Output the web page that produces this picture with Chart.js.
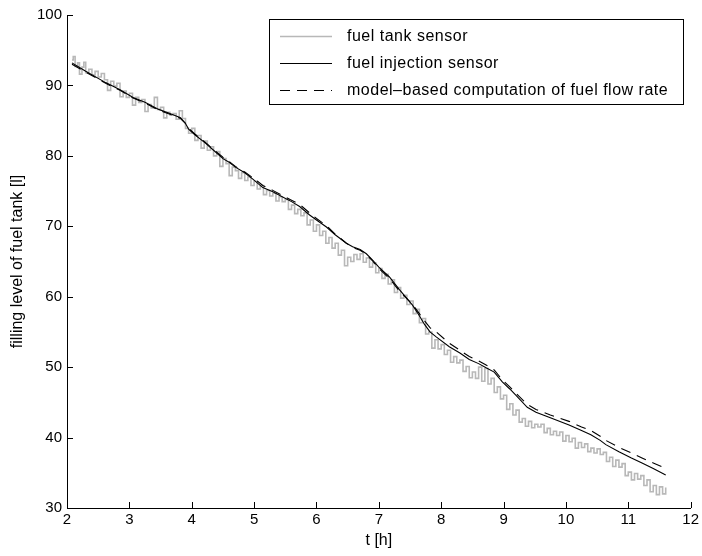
<!DOCTYPE html>
<html>
<head>
<meta charset="utf-8">
<script src="https://cdn.jsdelivr.net/npm/chart.js@4.4.1/dist/chart.umd.min.js"></script>
<style>
  html, body { margin: 0; padding: 0; background: #fff; }
  canvas { display: block; }
</style>
</head>
<body>
<canvas id="fuelChart" width="702" height="556"></canvas>
<script>
// tank level gauge (quantised, noisy)
const tankTime = [
  2.08, 2.10, 2.13, 2.17, 2.20, 2.24, 2.27, 2.30, 2.35, 2.40, 2.45, 2.50, 2.55, 2.60, 2.65, 2.70, 2.75, 2.80, 2.85, 2.90,
  2.95, 3.00, 3.05, 3.10, 3.15, 3.20, 3.25, 3.30, 3.35, 3.40, 3.45, 3.50, 3.55, 3.60, 3.65, 3.70, 3.75, 3.80, 3.85, 3.90,
  3.95, 4.00, 4.05, 4.10, 4.15, 4.20, 4.25, 4.30, 4.35, 4.40, 4.45, 4.50, 4.55, 4.60, 4.65, 4.70, 4.75, 4.80, 4.85, 4.90,
  4.95, 5.00, 5.05, 5.10, 5.15, 5.20, 5.25, 5.30, 5.35, 5.40, 5.45, 5.50, 5.55, 5.60, 5.65, 5.70, 5.75, 5.80, 5.85, 5.90,
  5.95, 6.00, 6.05, 6.10, 6.15, 6.20, 6.25, 6.30, 6.35, 6.40, 6.45, 6.50, 6.55, 6.60, 6.65, 6.70, 6.75, 6.80, 6.85, 6.90,
  6.95, 7.00, 7.05, 7.10, 7.15, 7.20, 7.25, 7.30, 7.35, 7.40, 7.45, 7.50, 7.55, 7.60, 7.65, 7.70, 7.75, 7.80, 7.85, 7.90,
  7.95, 8.00, 8.05, 8.10, 8.15, 8.20, 8.25, 8.30, 8.35, 8.40, 8.45, 8.50, 8.55, 8.60, 8.65, 8.70, 8.75, 8.80, 8.85, 8.90,
  8.95, 9.00, 9.05, 9.10, 9.15, 9.20, 9.25, 9.30, 9.35, 9.40, 9.45, 9.50, 9.55, 9.60, 9.65, 9.70, 9.75, 9.80, 9.85, 9.90,
  9.95, 10.00, 10.05, 10.10, 10.15, 10.20, 10.25, 10.30, 10.35, 10.40, 10.45, 10.50, 10.55, 10.60, 10.65, 10.70, 10.75, 10.80, 10.85, 10.90,
  10.95, 11.00, 11.05, 11.10, 11.15, 11.20, 11.25, 11.30, 11.35, 11.40, 11.45, 11.50, 11.55, 11.60
];
const tankLevel = [
  93.6, 94.1, 92.7, 93.2, 91.6, 92.6, 93.3, 91.8, 92.3, 91.5, 92.0, 91.2, 91.7, 90.8, 89.3, 90.6, 89.9, 90.3, 88.4, 89.2,
  88.3, 88.9, 87.2, 88.3, 87.6, 88.0, 86.3, 87.3, 86.8, 88.3, 86.6, 86.9, 85.4, 86.2, 85.8, 86.0, 85.2, 86.4, 85.3, 83.9,
  83.2, 83.9, 82.2, 82.9, 81.1, 82.1, 80.8, 81.3, 80.0, 80.6, 78.5, 79.6, 78.9, 77.2, 78.4, 77.9, 76.8, 77.6, 76.5, 77.0,
  75.8, 76.4, 75.3, 75.8, 74.5, 75.1, 74.3, 74.7, 73.6, 74.2, 73.5, 73.8, 72.4, 73.0, 71.8, 72.4, 71.5, 71.9, 70.2, 70.9,
  69.3, 70.2, 68.7, 69.3, 67.6, 68.4, 66.9, 67.6, 65.9, 66.6, 64.4, 65.6, 65.0, 66.0, 65.3, 66.1, 64.9, 65.5, 64.2, 64.8,
  63.4, 64.0, 62.6, 63.2, 61.8, 62.4, 60.6, 61.3, 59.8, 60.2, 58.9, 59.4, 57.6, 58.2, 56.3, 56.9, 54.7, 55.0, 52.7, 53.9,
  52.6, 53.2, 51.8, 52.4, 50.7, 51.5, 50.6, 51.0, 49.4, 50.1, 48.5, 49.3, 48.4, 50.0, 48.0, 49.8, 47.6, 48.4, 46.4, 47.2,
  45.5, 46.0, 44.0, 44.8, 43.2, 43.9, 42.2, 42.7, 41.6, 42.3, 41.4, 41.9, 41.5, 41.9, 40.7, 41.3, 40.4, 40.9, 40.3, 40.8,
  39.5, 40.3, 39.4, 39.9, 38.5, 39.3, 38.6, 39.1, 38.0, 38.5, 37.8, 38.4, 37.6, 37.9, 36.6, 37.2, 35.9, 36.8, 35.8, 36.3,
  34.6, 35.1, 34.0, 34.9, 34.1, 34.6, 33.2, 34.0, 32.3, 33.2, 31.9, 33.0, 32.0, 32.9
];

// level from the injection flow sensor
const injTime = [
  2.08, 2.30, 2.62, 2.85, 3.06, 3.25, 3.47, 3.65, 3.82, 3.90, 3.95, 4.05, 4.22, 4.35, 4.50, 4.60, 4.70, 4.85, 4.98, 5.14,
  5.30, 5.45, 5.60, 5.73, 5.89, 6.00, 6.16, 6.30, 6.48, 6.58, 6.70, 6.80, 6.90, 7.00, 7.17, 7.33, 7.54, 7.65, 7.73, 7.82,
  7.92, 8.13, 8.30, 8.45, 8.60, 8.72, 8.85, 8.98, 9.10, 9.20, 9.38, 9.52, 9.75, 10.05, 10.25, 10.40, 10.55, 10.64, 10.85, 11.05,
  11.22, 11.40, 11.60
];
const injLevel = [
  93.2, 92.0, 90.4, 89.4, 88.3, 87.6, 86.6, 86.0, 85.4, 84.6, 83.8, 83.0, 81.8, 80.8, 79.6, 79.1, 78.4, 77.6, 76.7, 75.5,
  74.9, 74.2, 73.5, 72.8, 71.6, 70.9, 69.9, 68.8, 67.6, 67.1, 66.7, 66.1, 65.2, 64.2, 62.8, 61.0, 58.8, 57.3, 56.1, 55.0,
  54.3, 52.9, 52.0, 51.1, 50.5, 49.9, 49.3, 47.9, 46.9, 46.0, 44.3, 43.6, 42.8, 41.8, 41.0, 40.4, 39.6, 39.0, 38.0, 37.1,
  36.4, 35.6, 34.7
];

// level from the model-based flow rate
const modelTime = injTime;
const modelLevel = [
  93.0, 91.9, 90.3, 89.3, 88.2, 87.5, 86.5, 85.9, 85.3, 84.6, 83.9, 83.1, 81.9, 80.9, 79.8, 79.2, 78.5, 77.7, 76.9, 75.8,
  75.1, 74.4, 73.7, 73.1, 71.9, 71.1, 70.1, 68.9, 67.6, 67.0, 66.6, 66.0, 65.1, 64.0, 62.6, 60.8, 58.9, 57.6, 56.6, 55.6,
  55.0, 53.4, 52.4, 51.5, 50.9, 50.3, 49.6, 48.2, 47.2, 46.3, 44.7, 44.0, 43.2, 42.3, 41.5, 41.0, 40.2, 39.6, 38.6, 37.8,
  37.1, 36.4, 35.6
];

const xTicks = [2, 3, 4, 5, 6, 7, 8, 9, 10, 11, 12];
const yTicks = [30, 40, 50, 60, 70, 80, 90, 100];

const FONT = '"Liberation Sans", Arial, Helvetica, sans-serif';
Chart.defaults.font.family = FONT;
Chart.defaults.font.size = 15;
Chart.defaults.color = '#000';

function toPoints(xs, ys) {
  return xs.map((x, i) => ({ x: x, y: ys[i] }));
}

// short tick marks pointing into the plot
const innerTicks = {
  id: 'innerTicks',
  afterDraw(chart) {
    const c = chart.ctx;
    const { x, y } = chart.scales;
    const area = chart.chartArea;
    c.save();
    c.strokeStyle = '#000';
    c.lineWidth = 1;
    c.beginPath();
    x.ticks.forEach(t => {
      const px = Math.round(x.getPixelForValue(t.value)) + 0.5;
      c.moveTo(px, area.bottom);
      c.lineTo(px, area.bottom - 6);
    });
    y.ticks.forEach(t => {
      const py = Math.round(y.getPixelForValue(t.value)) + 0.5;
      c.moveTo(area.left, py);
      c.lineTo(area.left + 6, py);
    });
    c.stroke();
    c.restore();
  }
};

// boxed legend in the upper right corner
const boxLegend = {
  id: 'boxLegend',
  afterDraw(chart) {
    const c = chart.ctx;
    c.save();
    c.fillStyle = '#fff';
    c.fillRect(269, 19, 414, 85);
    c.strokeStyle = '#000';
    c.lineWidth = 1;
    c.strokeRect(269.5, 19.5, 414, 85);
    c.font = '16px ' + FONT;
    c.textBaseline = 'middle';
    if ('letterSpacing' in c) c.letterSpacing = '0.5px';
    chart.data.datasets.forEach((ds, i) => {
      const yy = 36.5 + i * 27;
      c.beginPath();
      c.strokeStyle = ds.borderColor;
      c.lineWidth = ds.borderWidth;
      c.setLineDash(ds.borderDash || []);
      c.moveTo(280, yy);
      c.lineTo(332, yy);
      c.stroke();
      c.setLineDash([]);
      c.fillStyle = '#000';
      c.fillText(ds.label, 347, yy);
    });
    c.restore();
  }
};

new Chart(document.getElementById('fuelChart'), {
  type: 'line',
  data: {
    datasets: [{
      label: 'fuel tank sensor',
      data: toPoints(tankTime, tankLevel),
      borderColor: '#b8b8b8',
      borderWidth: 1.6,
      stepped: true,
      order: 3
    }, {
      label: 'fuel injection sensor',
      data: toPoints(injTime, injLevel),
      borderColor: '#000',
      borderWidth: 1.1,
      order: 1
    }, {
      label: 'model\u2013based computation of fuel flow rate',
      data: toPoints(modelTime, modelLevel),
      borderColor: '#000',
      borderWidth: 1.1,
      borderDash: [10, 7],
      order: 2
    }]
  },
  options: {
    responsive: false,
    animation: false,
    devicePixelRatio: 1,
    layout: { padding: { top: 15, right: 10, left: 0, bottom: 0 } },
    elements: { point: { radius: 0 }, line: { tension: 0 } },
    plugins: { legend: { display: false }, tooltip: { enabled: false } },
    scales: {
      x: {
        type: 'linear',
        min: 2,
        max: 12,
        afterBuildTicks: s => { s.ticks = xTicks.map(v => ({ value: v })); },
        afterFit: s => { s.height = 48; },
        ticks: { padding: 3, font: { size: 15 }, color: '#000' },
        grid: { display: false, drawTicks: false },
        border: { display: true, color: '#000', width: 1 },
        title: { display: true, text: 't [h]', font: { size: 16 }, color: '#000', padding: { top: 0, bottom: 6 } }
      },
      y: {
        type: 'linear',
        min: 30,
        max: 100,
        afterBuildTicks: s => { s.ticks = yTicks.map(v => ({ value: v })); },
        afterFit: s => { s.width = 67; },
        ticks: { padding: 5, font: { size: 15 }, color: '#000' },
        grid: { display: false, drawTicks: false },
        border: { display: true, color: '#000', width: 1 },
        title: { display: true, text: 'filling level of fuel tank [l]', font: { size: 16 }, color: '#000', padding: { top: 8, bottom: 0 } }
      }
    }
  },
  plugins: [innerTicks, boxLegend]
});
</script>
</body>
</html>
